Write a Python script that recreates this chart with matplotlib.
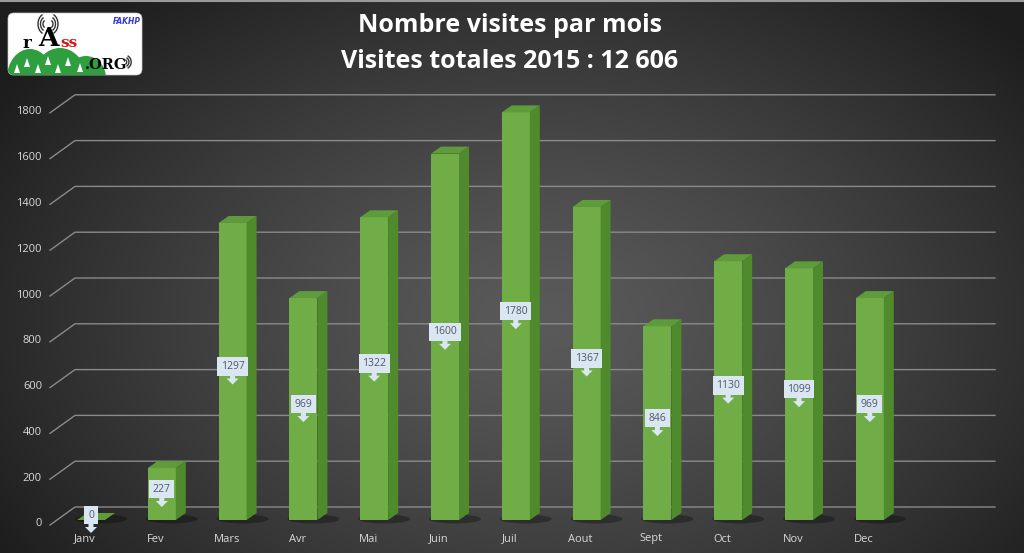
import numpy as np
import matplotlib.pyplot as plt
from matplotlib.patches import Polygon, FancyBboxPatch, Ellipse, Arc

# Data
months = ['Janv', 'Fev', 'Mars', 'Avr', 'Mai', 'Juin', 'Juil', 'Aout', 'Sept', 'Oct', 'Nov', 'Dec']
visits = [0, 227, 1297, 969, 1322, 1600, 1780, 1367, 846, 1130, 1099, 969]
ticks = [0, 200, 400, 600, 800, 1000, 1200, 1400, 1600, 1800]
title_lines = ['Nombre visites par mois', 'Visites totales 2015 : 12 606']

W, H = 1024, 553
fig = plt.figure(figsize=(W / 100, H / 100), dpi=100)

# dark radial background
bg = fig.add_axes([0, 0, 1, 1])
yy, xx = np.mgrid[0:H, 0:W]
r = np.sqrt(((xx - 540) / 640.0) ** 2 + ((yy - 320) / 430.0) ** 2)
g = (0x5a - (0x5a - 0x1d) * np.clip(r, 0, 1) ** 1.3) / 255.0
bg.imshow(np.dstack([g, g, g]), extent=[0, W, H, 0], aspect='auto')
bg.plot([0, W], [0.5, 0.5], color='#9a9a9a', lw=1.5)
bg.set_xlim(0, W)
bg.set_ylim(H, 0)
bg.axis('off')

# main axes: x in category units, y in visit units
X0, SX = 85.0, 70.8      # pixel of first category, pixels per category
Y0, SY = 520.0, 0.229    # pixel of value 0, pixels per visit
ax = fig.add_axes([0, 0, 1, 1], zorder=2)
ax.patch.set_alpha(0)
ax.set_xlim(-X0 / SX, (W - X0) / SX)
ax.set_ylim((Y0 - H) / SY, Y0 / SY)
ax.axis('off')


def px(p):
    return p / SX


def py(p):
    return p / SY


front_c, side_c, top_c = '#70ad47', '#4f8a2c', '#5e9b3a'
grid_c, text_c = '#8a8a8a', '#d9d9d9'

# back-wall gridlines with the little floor diagonal on the left
for t in ticks:
    ax.plot([px(50 - X0), px(75 - X0), px(995 - X0)],
            [t - py(5), t + py(13), t + py(13)],
            color=grid_c, lw=1.0, zorder=1)
    ax.text(px(42 - X0), t - py(4), str(t), ha='right', va='center',
            color=text_c, fontsize=8, family='Open Sans')

# 3D bars
hw = px(14)
ddx, ddy = px(10), py(7)
for i, v in enumerate(visits):
    xc = i + px(6)
    ax.add_patch(Ellipse((xc + px(10), py(1)), px(52), py(9), color='black',
                         alpha=0.3, lw=0, zorder=2))
    if v > 0:
        ax.bar(xc, v, width=2 * hw, color=front_c, zorder=4)
        ax.add_patch(Polygon([(xc + hw, 0), (xc + hw + ddx, ddy),
                              (xc + hw + ddx, v + ddy), (xc + hw, v)],
                             closed=True, color=side_c, lw=0, zorder=4))
    ax.add_patch(Polygon([(xc - hw, v), (xc + hw, v), (xc + hw + ddx, v + ddy),
                          (xc - hw + ddx, v + ddy)],
                         closed=True, color=top_c, lw=0, zorder=4))

    # callout label
    yc = v / 2 + py(5)
    ax.text(xc, yc, str(v), ha='center', va='center', fontsize=7.5,
            color='#505866', family='Open Sans', zorder=6,
            bbox=dict(boxstyle='square,pad=0.35', fc='#dbe6f3', ec='none'))
    yb = yc - py(8)
    ax.add_patch(Polygon([(xc - px(2.5), yb), (xc + px(2.5), yb),
                          (xc + px(2.5), yb - py(4)), (xc + px(6), yb - py(4)),
                          (xc, yb - py(10)), (xc - px(6), yb - py(4)),
                          (xc - px(2.5), yb - py(4))],
                         closed=True, color='#dbe6f3', lw=0, zorder=6))

    ax.text(i, -py(19), months[i], ha='center', va='center',
            color=text_c, fontsize=8, family='Open Sans')

# title
fig.text(510 / W, 1 - 26 / H, title_lines[0], ha='center', va='center',
         color='white', fontsize=18, fontweight='bold', family='Open Sans')
fig.text(510 / W, 1 - 61 / H, title_lines[1], ha='center', va='center',
         color='white', fontsize=18, fontweight='bold', family='Open Sans')

# logo (drawn in pixel units)
lg = fig.add_axes([7 / W, 1 - 76 / H, 137 / W, 64 / H], zorder=3)
lg.set_xlim(7, 144)
lg.set_ylim(76, 12)
lg.axis('off')
box = FancyBboxPatch((8, 13), 134, 62, boxstyle='round,pad=0,rounding_size=6',
                     fc='white', ec='#cccccc', lw=0.5)
lg.add_patch(box)
for cx, cy, w, h in [(30, 78, 46, 58), (60, 78, 52, 60), (86, 78, 40, 44)]:
    e = Ellipse((cx, cy), w, h, color='#2f9e3f', lw=0)
    lg.add_patch(e)
    e.set_clip_path(box)
for tx, ty in [(17, 68), (27, 62), (38, 68), (48, 60), (58, 68), (68, 61), (80, 67)]:
    lg.add_patch(Polygon([(tx - 3, ty + 5), (tx + 3, ty + 5), (tx, ty - 4)],
                         closed=True, color='white', lw=0))
for rr in [6, 11, 16]:
    lg.add_patch(Arc((46, 24), rr, rr * 1.3, theta1=110, theta2=250, color='#333', lw=1))
    lg.add_patch(Arc((50, 24), rr, rr * 1.3, theta1=-70, theta2=70, color='#333', lw=1))
    lg.add_patch(Arc((124, 62), rr * 0.9, rr * 0.9, theta1=-60, theta2=60, color='#333', lw=1))
lg.text(27, 43, 'r', ha='center', va='center', fontsize=12, fontweight='bold',
        family='DejaVu Serif', color='black')
lg.text(48, 38, 'A', ha='center', va='center', fontsize=19, fontweight='bold',
        family='DejaVu Serif', color='black')
lg.text(69, 43, 'ss', ha='center', va='center', fontsize=11, fontweight='bold',
        family='DejaVu Serif', color='#d8161b')
lg.text(106, 65, '.ORG', ha='center', va='center', fontsize=10.5, fontweight='bold',
        family='DejaVu Serif', color='black')
lg.text(127, 22, 'FAKHP', ha='center', va='center', fontsize=5.5, fontstyle='italic',
        fontweight='bold', color='#3a3ad0')

fig.savefig('out.png', dpi=100)
